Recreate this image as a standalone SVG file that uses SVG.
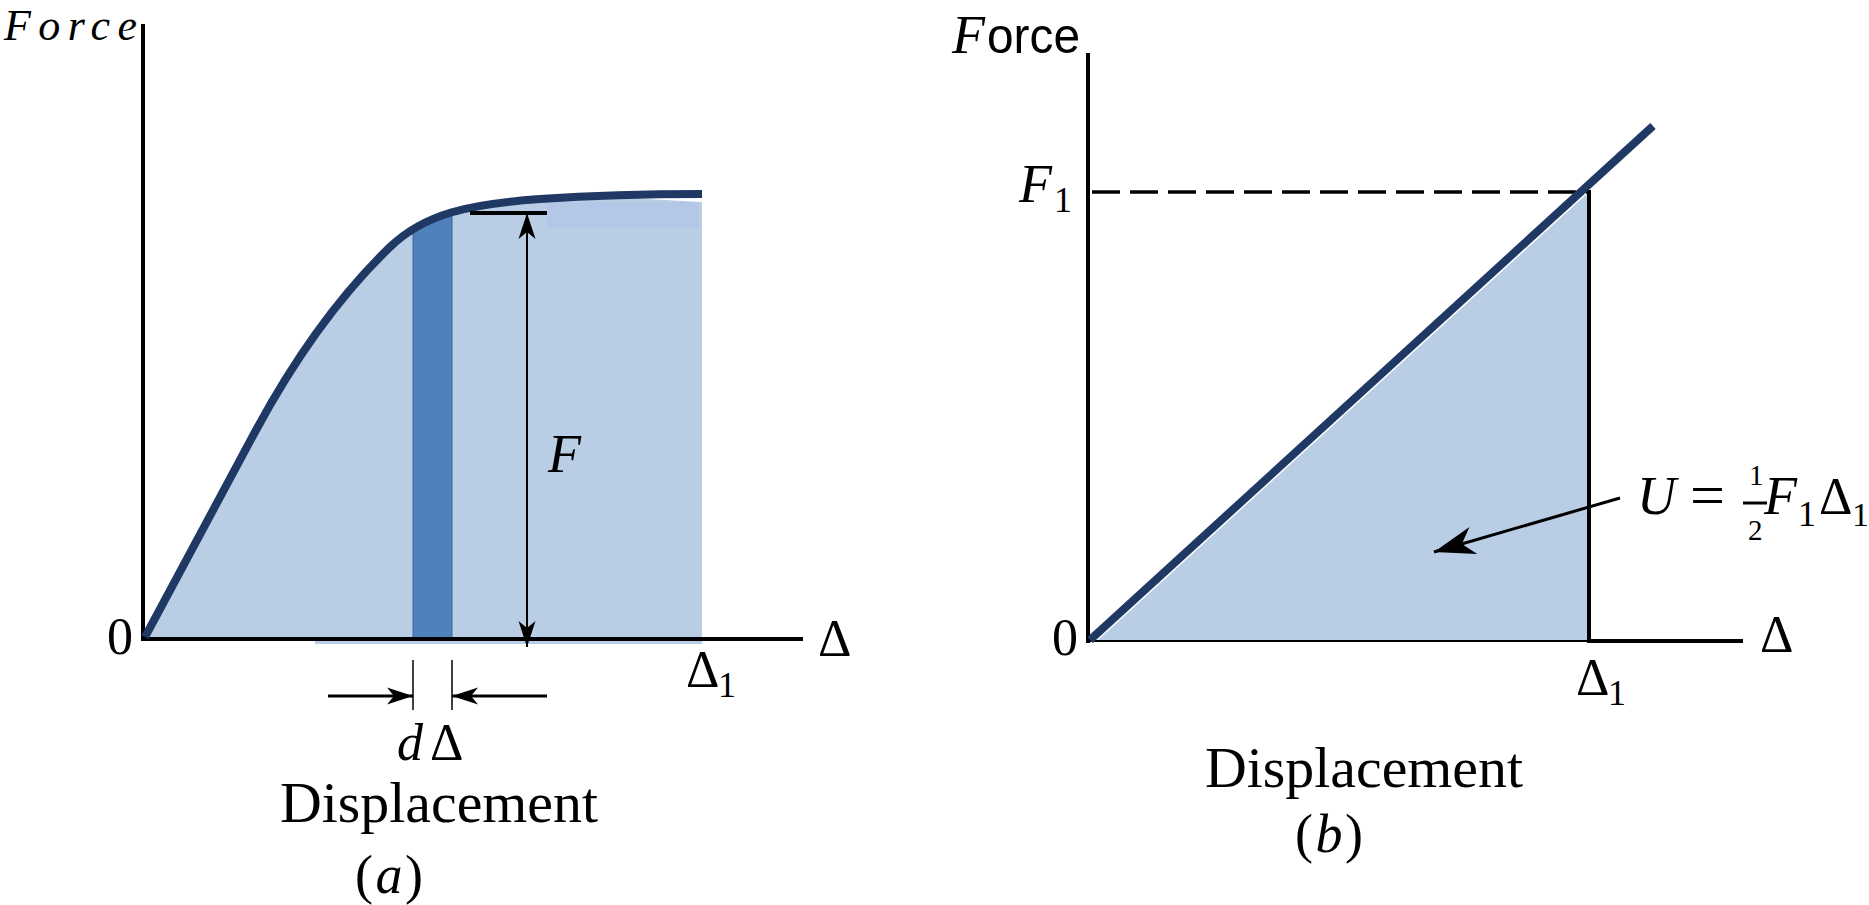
<svg xmlns="http://www.w3.org/2000/svg" width="1869" height="905" viewBox="0 0 1869 905">
<style>
.ax{stroke:#000;stroke-width:4;fill:none}
.thin{stroke:#000;fill:none}
.curve{stroke:#1f3864;stroke-width:8;fill:none}
.t{font-family:"Liberation Serif","DejaVu Serif",serif;fill:#000}
.i{font-style:italic}
.s{font-family:"Liberation Sans",Arial,sans-serif;fill:#000}
</style>
<defs>
<marker id="ah" markerUnits="userSpaceOnUse" markerWidth="28" markerHeight="20" viewBox="-27 -10 28 20" refX="0" refY="0" orient="auto-start-reverse" overflow="visible">
<path d="M0,0 L-26,-8.5 L-19,0 L-26,8.5 Z" fill="#000"/>
</marker>
<marker id="ahL" markerUnits="userSpaceOnUse" markerWidth="44" markerHeight="30" viewBox="-43 -15 44 30" refX="0" refY="0" orient="auto" overflow="visible">
<path d="M0,0 L-41,-14 L-29,0 L-41,14 Z" fill="#000"/>
</marker>
<clipPath id="areaA">
<path d="M145,639 L145,637 L255,432 C290,367 335,300 390,247 C425,213.3 470,204 540,199 C600,195 650,194 702,194 L702,639 Z"/>
</clipPath>
</defs>

<g id="panel-a">
<g id="area-a">
<path d="M145,639 L145,637 L255,432 C290,367 335,300 390,247 C425,213.3 470,204 540,199 C600,196 650,199 702,202 L702,639 Z" fill="#b9cde5"/>
<rect x="547" y="202" width="152" height="26" fill="#b4c7e7"/>
<rect x="315" y="639" width="387" height="5" fill="#b9cde5"/>
<rect x="413" y="150" width="39" height="489" fill="#4f81bd" stroke="#3d6699" stroke-width="1" clip-path="url(#areaA)"/>
</g>
<g id="axes-a">
<line class="ax" x1="143" y1="24" x2="143" y2="641"/>
<line class="ax" x1="141" y1="639" x2="803" y2="639"/>
</g>
<path id="curve-a" class="curve" d="M145,637 L255,432 C290,367 335,300 390,247 C425,213.3 470,204 540,199 C600,195 650,194 702,194"/>
<g id="dims-a">
<line class="ax" x1="470" y1="213" x2="547" y2="213"/>
<line class="thin" stroke-width="2" x1="527" y1="213" x2="527" y2="647" marker-start="url(#ah)" marker-end="url(#ah)"/>
<line class="thin" stroke-width="1.5" x1="413" y1="660" x2="413" y2="710"/>
<line class="thin" stroke-width="1.5" x1="452" y1="660" x2="452" y2="710"/>
<line class="thin" stroke-width="3" x1="328" y1="696" x2="413" y2="696" marker-end="url(#ah)"/>
<line class="thin" stroke-width="3" x1="547" y1="696" x2="452" y2="696" marker-end="url(#ah)"/>
</g>
<g id="labels-a">
<text class="t i" x="4" y="40" font-size="44" textLength="133" lengthAdjust="spacing">Force</text>
<text class="t" x="107" y="654" font-size="52">0</text>
<text class="t" x="818" y="656" font-size="52">Δ</text>
<text class="t" x="686" y="687" font-size="52">Δ</text>
<text class="t" x="718" y="697" font-size="36">1</text>
<text class="t i" x="548" y="472" font-size="54">F</text>
<text class="t i" x="397" y="760" font-size="52">d</text>
<text class="t" x="430" y="760" font-size="52">Δ</text>
<text class="t" x="280" y="822" font-size="56" textLength="318" lengthAdjust="spacingAndGlyphs">Displacement</text>
<text class="t" x="355" y="893" font-size="54" textLength="68" lengthAdjust="spacing">(<tspan class="i">a</tspan>)</text>
</g>
</g>

<g id="panel-b">
<polygon id="area-b" points="1097,641 1589,192 1589,641" fill="#b9cde5"/>
<g id="axes-b">
<line class="ax" x1="1088" y1="53" x2="1088" y2="643"/>
<line class="thin" stroke-width="2" x1="1088" y1="641" x2="1589" y2="641"/>
<line class="ax" x1="1587" y1="641" x2="1743" y2="641"/>
<line class="ax" x1="1589" y1="190" x2="1589" y2="643"/>
<line class="thin" stroke-width="3.5" stroke-dasharray="28 10" x1="1092" y1="192" x2="1589" y2="192"/>
</g>
<line id="line-b" class="curve" x1="1090" y1="640" x2="1653" y2="126"/>
<line id="arrow-u" class="thin" stroke-width="3" x1="1620" y1="498" x2="1434" y2="552" marker-end="url(#ahL)"/>
<g id="labels-b">
<text class="t i" x="952" y="53" font-size="54">F</text>
<text class="s" x="987" y="53" font-size="50" textLength="93" lengthAdjust="spacingAndGlyphs">orce</text>
<text class="t i" x="1019" y="202" font-size="54">F</text>
<text class="t" x="1054" y="212" font-size="36">1</text>
<text class="t" x="1052" y="655" font-size="52">0</text>
<text class="t" x="1760" y="652" font-size="52">Δ</text>
<text class="t" x="1576" y="695" font-size="52">Δ</text>
<text class="t" x="1608" y="705" font-size="36">1</text>
<text class="t i" x="1637" y="514" font-size="54">U</text>
<text class="t" x="1690" y="516" font-size="62">=</text>
<text class="t" x="1749" y="485" font-size="29">1</text>
<line class="thin" stroke-width="3" x1="1743" y1="503" x2="1767" y2="503"/>
<text class="t" x="1748" y="540" font-size="29">2</text>
<text class="t i" x="1764" y="514" font-size="54">F</text>
<text class="t" x="1798" y="526" font-size="36">1</text>
<text class="t" x="1819" y="514" font-size="52">Δ</text>
<text class="t" x="1852" y="526" font-size="34">1</text>
<text class="t" x="1205" y="787" font-size="56" textLength="318" lengthAdjust="spacingAndGlyphs">Displacement</text>
<text class="t" x="1295" y="852" font-size="54" textLength="68" lengthAdjust="spacing">(<tspan class="i">b</tspan>)</text>
</g>
</g>
</svg>
